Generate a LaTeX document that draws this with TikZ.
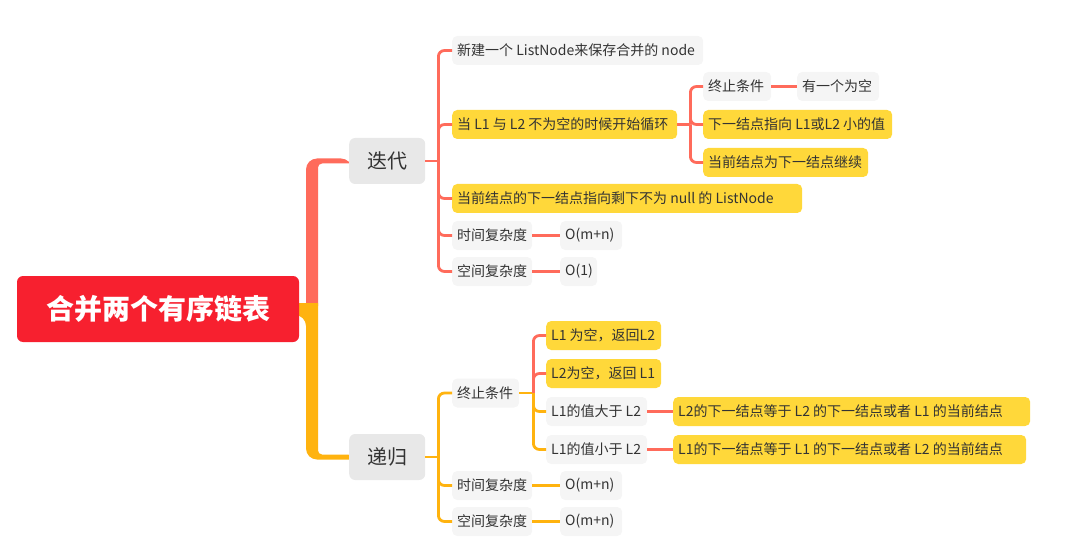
\documentclass[tikz,border=0pt]{standalone}
\usepackage{fontspec}
\setmainfont{Noto Sans CJK SC}
\definecolor{coral}{HTML}{FF6B5B}
\definecolor{ora}{HTML}{FFB30F}
\definecolor{rootred}{HTML}{F7202F}
\definecolor{yel}{HTML}{FFD83A}
\definecolor{lg}{HTML}{F5F5F5}
\definecolor{mg}{HTML}{E8E8E8}
\definecolor{txt}{HTML}{333333}
\newcommand{\lbx}[2]{\makebox[#1pt][l]{#2}}
\tikzset{
  box/.style={rounded corners=5pt, minimum height=29pt, inner xsep=5pt, inner ysep=0pt, anchor=west,
    font=\fontsize{14}{14}\selectfont, text=txt},
  greybox/.style={box, fill=lg},
  yelbox/.style={box, fill=yel},
  mainbox/.style={rounded corners=6pt, minimum height=46pt, minimum width=76pt, inner sep=0pt,
    anchor=west, fill=mg, text=txt, font=\fontsize{20}{20}\selectfont},
  cc/.style={draw=coral, line width=2.8pt},
  oc/.style={draw=ora, line width=2.8pt},
}
\begin{document}
\begin{tikzpicture}[x=1pt,y=-1pt]
\useasboundingbox (0,0) rectangle (1075,553);

% trunk
\fill[coral] (306,310) [rounded corners=11pt] -- (306,158.5) -- (352,158.5) [sharp corners] -- (352,163.5) [rounded corners=4pt] -- (318,163.5) -- (318,310) [sharp corners] -- cycle;
\fill[ora] (299,303) -- (318,303) [rounded corners=4pt] -- (318,454.5) -- (352,454.5) [sharp corners] -- (352,459.5) [rounded corners=11pt] -- (306,459.5) -- (306,315) [sharp corners] -- (299,315) -- cycle;

% root
\node[rounded corners=6pt, fill=rootred, minimum width=282pt, minimum height=66pt, inner sep=0pt,
  text=white, font=\fontsize{28}{28}\selectfont\bfseries] (root) at (158,309) {合并两个有序链表};

\node[mainbox] (diedai) at (349,161) {迭代};
\node[mainbox] (digui) at (349,457) {递归};

% 迭代 children
\node[greybox] (a1) at (452,50.5) {\lbx{241}{新建一个 ListNode来保存合并的 node}};
\node[yelbox] (a2) at (452,124.5) {\lbx{215}{当 L1 与 L2 不为空的时候开始循环}};
\node[yelbox] (a3) at (452,198.5) {\lbx{340}{当前结点的下一结点指向剩下不为 null 的 ListNode}};
\node[greybox] (a4) at (452,235.5) {\lbx{70}{时间复杂度}};
\node[greybox] (a5) at (452,271.5) {\lbx{70}{空间复杂度}};
\node[greybox] (a4b) at (560,235.5) {\lbx{52}{O(m+n)}};
\node[greybox] (a5b) at (560,271.5) {\lbx{27}{O(1)}};

\node[greybox] (b1) at (703,86.5) {\lbx{58}{终止条件}};
\node[greybox] (b1b) at (797,86.5) {\lbx{72}{有一个为空}};
\node[yelbox] (b2) at (703,124.5) {\lbx{179}{下一结点指向 L1或L2 小的值}};
\node[yelbox] (b3) at (703,162.5) {\lbx{155}{当前结点为下一结点继续}};

% 递归 children
\node[greybox] (c1) at (452,393) {\lbx{57}{终止条件}};
\node[greybox] (c2) at (452,485.5) {\lbx{70}{时间复杂度}};
\node[greybox] (c3) at (452,521.5) {\lbx{70}{空间复杂度}};
\node[greybox] (c2b) at (560,485.5) {\lbx{52}{O(m+n)}};
\node[greybox] (c3b) at (560,521.5) {\lbx{52}{O(m+n)}};

\node[yelbox] (d1) at (546,335.5) {\lbx{105}{L1 为空，返回L2}};
\node[yelbox] (d2) at (546,373.5) {\lbx{105}{L2为空，返回 L1}};
\node[greybox] (d3) at (546,411.5) {\lbx{91}{L1的值大于 L2}};
\node[greybox] (d4) at (546,449.5) {\lbx{91}{L1的值小于 L2}};
\node[yelbox] (d3b) at (673,411.5) {\lbx{347}{L2的下一结点等于 L2 的下一结点或者 L1 的当前结点}};
\node[yelbox] (d4b) at (673,449.5) {\lbx{343}{L1的下一结点等于 L1 的下一结点或者 L2 的当前结点}};

% connectors 迭代
\draw[cc] (diedai.east) -- ++(13,0) coordinate (j1);
\foreach \c in {a1,a2,a3,a4,a5} \draw[cc, rounded corners=6pt] (j1) |- (\c.west);
\draw[cc] (a4.east) -- (a4b.west);
\draw[cc] (a5.east) -- (a5b.west);
\draw[cc] (a2.east) -- ++(13,0) coordinate (j2);
\foreach \c in {b1,b2,b3} \draw[cc, rounded corners=6pt] (j2) |- (\c.west);
\draw[cc] (b1.east) -- (b1b.west);

% connectors 递归
\draw[oc] (digui.east) -- ++(13,0) coordinate (j3);
\foreach \c in {c1,c2,c3} \draw[oc, rounded corners=6pt] (j3) |- (\c.west);
\draw[oc] (c2.east) -- (c2b.west);
\draw[oc] (c3.east) -- (c3b.west);
\draw[oc] (c1.east) -- ++(14,0) coordinate (j4);
\foreach \c in {d1,d2} \draw[cc, rounded corners=6pt] (j4) |- (\c.west);
\foreach \c in {d3,d4} \draw[oc, rounded corners=6pt] (j4) |- (\c.west);
\draw[cc] (d3.east) -- (d3b.west);
\draw[cc] (d4.east) -- (d4b.west);
\end{tikzpicture}
\end{document}
